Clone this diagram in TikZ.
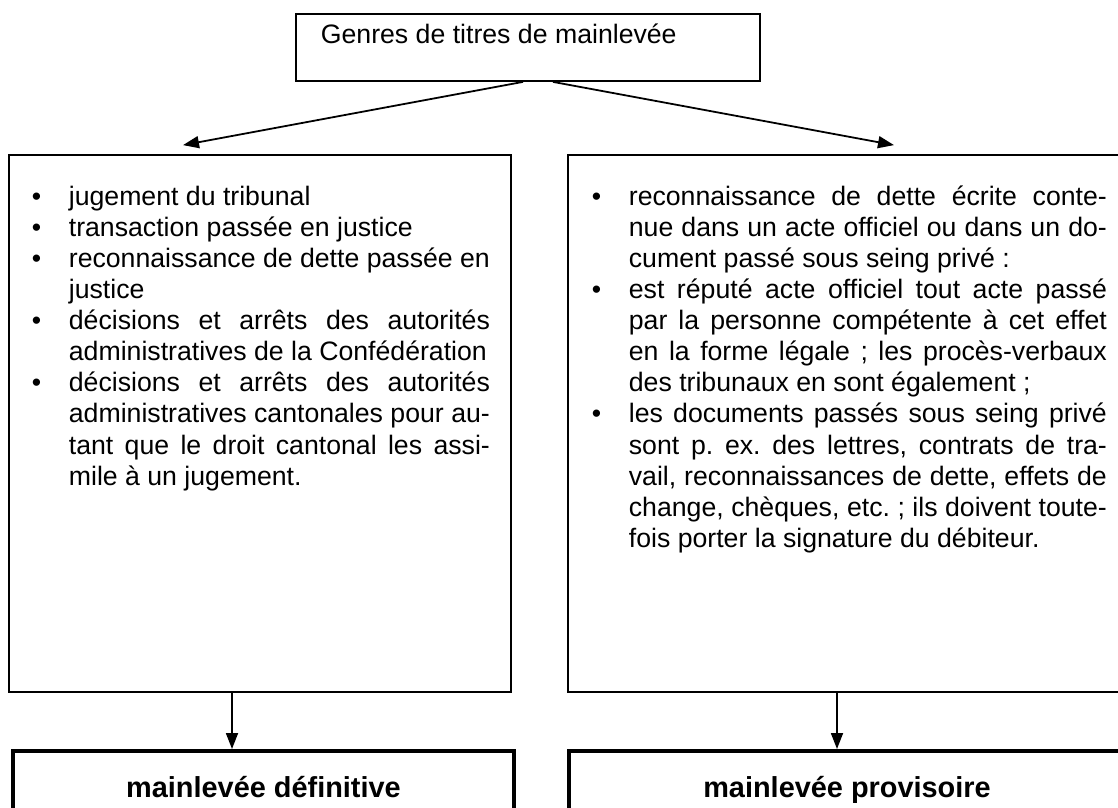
\documentclass[tikz,border=0pt]{standalone}
\usepackage{fontspec}
\setmainfont{Liberation Sans}[Ligatures={TeX,NoCommon}]
\usetikzlibrary{arrows.meta}
\frenchspacing
\newcommand{\puce}{\par\hyphenpenalty=10000 \tolerance=10000 \noindent\hangindent=16.65pt\hangafter=1\hbox to 16.65pt{\textbullet\hfil}}

\begin{document}
\begin{tikzpicture}[x=0.45pt, y=-0.45pt, line width=0.8pt,
   box_style/.style={draw=black, rectangle, inner sep=0pt},
   list_style/.style={inner sep=0pt, anchor=north west, align=justify, font=\fontsize{12}{14}\selectfont},
   end_style/.style={draw=black, line width=1.8pt, rectangle, inner sep=0pt, anchor=north,
      minimum height=32pt, text height=9.4pt, text depth=0pt, font=\fontsize{13}{15}\selectfont\bfseries},
   arrow_style/.style={draw=black, line width=0.8pt, -{Triangle[length=7.2pt,width=5.4pt]}}]
	\clip (0,0) rectangle (1118,808);

	\node [box_style, minimum width=208.8pt, minimum height=30.15pt] (titre) at (528,47.5) {};
	\node [inner sep=0pt, anchor=base west, font=\fontsize{12}{14}\selectfont] (titre_txt) at (320,43) {Genres de titres de mainlevée};

	\node [box_style, minimum width=225.9pt, minimum height=241.65pt] (gauche) at (260,423.5) {};
	\node [box_style, minimum width=252.9pt, minimum height=241.65pt] (droite) at (849,423.5) {};

	% definitive
	\node [list_style, text width=206.1pt] (liste_g) at (31,173.2) {%
		\puce\strut jugement du tribunal
		\puce transaction passée en justice
		\puce reconnaissance de dette passée en\linebreak justice
		\puce décisions et arrêts des autorités\linebreak administratives de la Confédération
		\puce décisions et arrêts des autorités\linebreak administratives cantonales pour au-\linebreak tant que le droit cantonal les assi-\linebreak mile à un jugement.\par};

	% provisoire
	\node [list_style, text width=231.75pt] (liste_d) at (591,173.2) {%
		\puce\strut reconnaissance de dette écrite conte-\linebreak nue dans un acte officiel ou dans un do-\linebreak cument passé sous seing privé :
		\puce est réputé acte officiel tout acte passé\linebreak par la personne compétente à cet effet\linebreak en la forme légale ; les procès-verbaux\linebreak des tribunaux en sont également ;
		\puce les documents passés sous seing privé\linebreak sont p. ex. des lettres, contrats de tra-\linebreak vail, reconnaissances de dette, effets de\linebreak change, chèques, etc. ; ils doivent toute-\linebreak fois porter la signature du débiteur.\par};

	\node [end_style, minimum width=225.45pt] (fin_g) at (263.5,749) {mainlevée définitive};
	\node [end_style, minimum width=250.2pt] (fin_d) at (847,749) {mainlevée provisoire};

	\draw [arrow_style] ([xshift=-2.25pt]titre.south) -- ([xshift=-34.65pt, yshift=4.05pt]gauche.north);
	\draw [arrow_style] ([xshift=11.25pt]titre.south) -- ([xshift=20.25pt, yshift=4.05pt]droite.north);

	\foreach \from/\to/\shift in {gauche/fin_g/-12.6pt, droite/fin_d/-5.4pt}
	  \draw [arrow_style] ([xshift=\shift]\from.south) -- ([xshift=\shift]\from.south |- \to.north);

\end{tikzpicture}
\end{document}
